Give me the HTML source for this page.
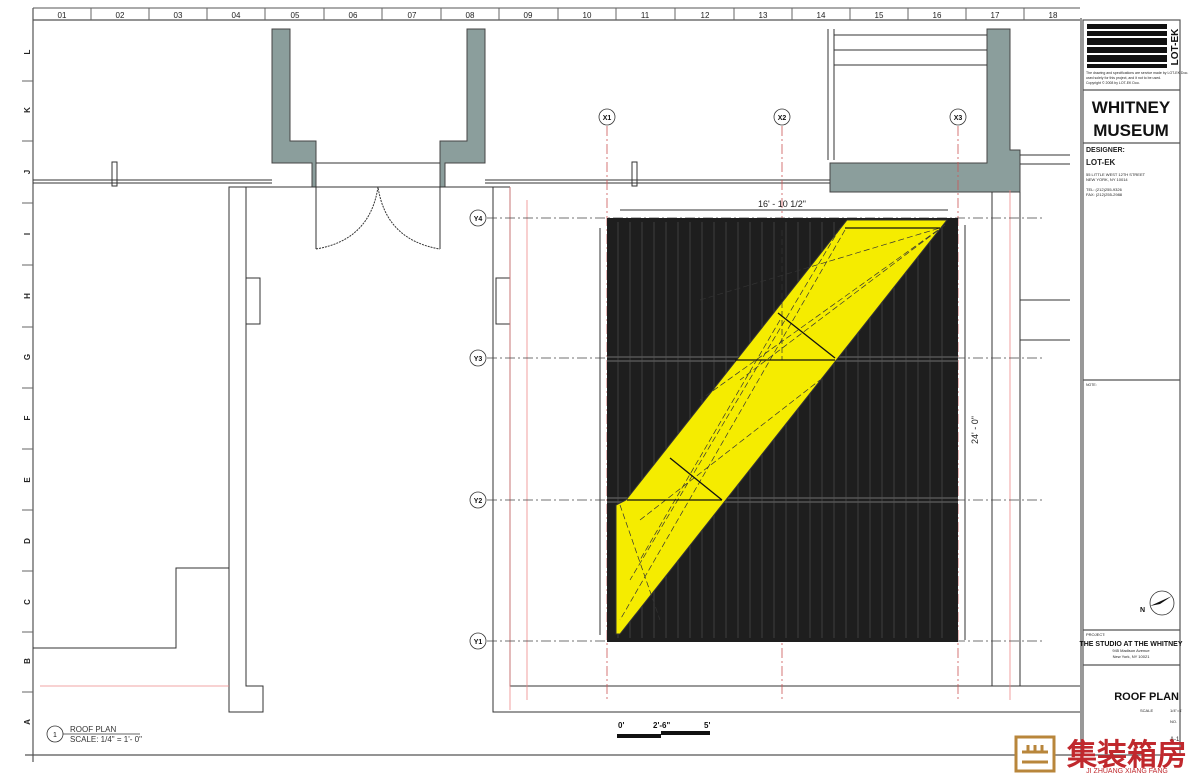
<!DOCTYPE html>
<html><head><meta charset="utf-8"><style>
html,body{margin:0;padding:0;background:#fff}
svg{display:block}
text{font-family:"Liberation Sans",sans-serif}
</style></head><body>
<svg width="1200" height="776" viewBox="0 0 1200 776" xmlns="http://www.w3.org/2000/svg">
<rect width="1200" height="776" fill="#fff"/>
<!-- borders -->
<g stroke="#555" stroke-width="1.2" fill="none">
<line x1="33" y1="20" x2="1080" y2="20"/>
<line x1="33" y1="8" x2="33" y2="762"/>
<line x1="25" y1="755" x2="1080" y2="755"/>
<line x1="1081" y1="18" x2="1081" y2="760"/>
<rect x="1083" y="20" width="97" height="735"/>
<line x1="1083" y1="90" x2="1180" y2="90"/>
<line x1="1083" y1="143" x2="1180" y2="143"/>
<line x1="1083" y1="380" x2="1180" y2="380"/>
<line x1="1083" y1="630" x2="1180" y2="630"/>
<line x1="1083" y1="665" x2="1180" y2="665"/>
</g>
<!-- column ticks -->
<g stroke="#555" stroke-width="1">
<line x1="33" y1="8" x2="1080" y2="8"/>
</g>
<g font-size="8" fill="#222" text-anchor="middle">
<text x="62" y="18">01</text><text x="120" y="18">02</text><text x="178" y="18">03</text><text x="236" y="18">04</text><text x="295" y="18">05</text><text x="353" y="18">06</text><text x="412" y="18">07</text><text x="470" y="18">08</text><text x="528" y="18">09</text><text x="587" y="18">10</text><text x="645" y="18">11</text><text x="705" y="18">12</text><text x="763" y="18">13</text><text x="821" y="18">14</text><text x="879" y="18">15</text><text x="937" y="18">16</text><text x="995" y="18">17</text><text x="1053" y="18">18</text>
</g>
<g font-size="8" fill="#222" text-anchor="middle" font-weight="bold">
<text transform="translate(30,52) rotate(-90)">L</text>
<text transform="translate(30,110) rotate(-90)">K</text>
<text transform="translate(30,172) rotate(-90)">J</text>
<text transform="translate(30,234) rotate(-90)">I</text>
<text transform="translate(30,296) rotate(-90)">H</text>
<text transform="translate(30,357) rotate(-90)">G</text>
<text transform="translate(30,418) rotate(-90)">F</text>
<text transform="translate(30,480) rotate(-90)">E</text>
<text transform="translate(30,541) rotate(-90)">D</text>
<text transform="translate(30,602) rotate(-90)">C</text>
<text transform="translate(30,661) rotate(-90)">B</text>
<text transform="translate(30,722) rotate(-90)">A</text>
</g>
<g stroke="#666" stroke-width="1">
<line x1="91" y1="8" x2="91" y2="20"/><line x1="149" y1="8" x2="149" y2="20"/><line x1="207" y1="8" x2="207" y2="20"/><line x1="265" y1="8" x2="265" y2="20"/><line x1="324" y1="8" x2="324" y2="20"/><line x1="382" y1="8" x2="382" y2="20"/><line x1="441" y1="8" x2="441" y2="20"/><line x1="499" y1="8" x2="499" y2="20"/><line x1="558" y1="8" x2="558" y2="20"/><line x1="616" y1="8" x2="616" y2="20"/><line x1="675" y1="8" x2="675" y2="20"/><line x1="734" y1="8" x2="734" y2="20"/><line x1="792" y1="8" x2="792" y2="20"/><line x1="850" y1="8" x2="850" y2="20"/><line x1="908" y1="8" x2="908" y2="20"/><line x1="966" y1="8" x2="966" y2="20"/><line x1="1024" y1="8" x2="1024" y2="20"/>
<line x1="22" y1="81" x2="33" y2="81"/><line x1="22" y1="141" x2="33" y2="141"/><line x1="22" y1="203" x2="33" y2="203"/><line x1="22" y1="265" x2="33" y2="265"/><line x1="22" y1="327" x2="33" y2="327"/><line x1="22" y1="388" x2="33" y2="388"/><line x1="22" y1="449" x2="33" y2="449"/><line x1="22" y1="510" x2="33" y2="510"/><line x1="22" y1="571" x2="33" y2="571"/><line x1="22" y1="632" x2="33" y2="632"/><line x1="22" y1="692" x2="33" y2="692"/>
</g>
<!-- gray walls -->
<g fill="#8b9e9c" stroke="#444" stroke-width="1">
<path d="M272 29 H290 V141 H316 V187 H312 V163 H272 Z"/>
<path d="M485 29 H467 V141 H440 V187 H445 V163 H485 Z"/>
<path d="M987 29 H1010 V150 H1020 V192 H830 V163 H987 Z"/>
</g>
<!-- plan lines -->
<g stroke="#333" stroke-width="1" fill="none">
<line x1="33" y1="180" x2="272" y2="180"/><line x1="33" y1="183" x2="272" y2="183"/>
<line x1="485" y1="180" x2="830" y2="180"/><line x1="485" y1="183" x2="830" y2="183"/>
<rect x="112" y="162" width="5" height="24"/><rect x="632" y="162" width="5" height="24"/>
<line x1="316" y1="163" x2="440" y2="163"/>
<line x1="246" y1="187" x2="510" y2="187"/>
<line x1="316" y1="187" x2="316" y2="249"/><line x1="440" y1="187" x2="440" y2="249"/>
<path d="M316 249 Q370 240 378 187 Q386 240 440 249" stroke-dasharray="2,1"/>
<path d="M229 187 H246 V686 H263 V712 H229 Z"/>
<path d="M510 187 V686 H1080 M493 187 V712 H1080"/>
<line x1="493" y1="187" x2="510" y2="187"/>
<rect x="246" y="278" width="14" height="46"/>
<rect x="496" y="278" width="14" height="46"/>
<path d="M33 648 H176 V568 H229"/>
<line x1="992" y1="192" x2="992" y2="686"/>
<line x1="1020" y1="192" x2="1020" y2="686"/>
<line x1="828" y1="29" x2="828" y2="160"/><line x1="834" y1="29" x2="834" y2="160"/>
<line x1="834" y1="35" x2="987" y2="35"/><line x1="834" y1="50" x2="987" y2="50"/><line x1="834" y1="65" x2="987" y2="65"/>
<line x1="1020" y1="155" x2="1070" y2="155"/><line x1="1020" y1="164" x2="1070" y2="164"/>
<line x1="1020" y1="300" x2="1070" y2="300"/><line x1="1020" y1="340" x2="1070" y2="340"/>
<line x1="600" y1="228" x2="600" y2="635"/>
<line x1="620" y1="210" x2="948" y2="210"/>
<line x1="965" y1="225" x2="965" y2="640"/>
</g>
<!-- red lines -->
<g stroke="#e88" stroke-width="0.8" fill="none">
<line x1="510" y1="187" x2="510" y2="710"/>
<line x1="527" y1="200" x2="527" y2="700"/>
<line x1="40" y1="686" x2="229" y2="686"/>
<line x1="1010" y1="190" x2="1010" y2="700"/>
</g>
<!-- grid lines -->
<g stroke="#c55" stroke-width="0.8" stroke-dasharray="10,3,2,3">
<line x1="607" y1="126" x2="607" y2="700"/>
<line x1="782" y1="126" x2="782" y2="700"/>
<line x1="958" y1="126" x2="958" y2="700"/>
</g>
<g stroke="#444" stroke-width="0.8" stroke-dasharray="10,3,2,3">
<line x1="487" y1="218" x2="1045" y2="218"/>
<line x1="487" y1="358" x2="1045" y2="358"/>
<line x1="487" y1="500" x2="1045" y2="500"/>
<line x1="487" y1="641" x2="1045" y2="641"/>
</g>
<!-- container -->
<rect x="607" y="218" width="351" height="424" fill="#1e1e1e"/>
<g stroke="#3a3a3a" stroke-width="1.2">
<line x1="618" y1="222" x2="618" y2="638"/><line x1="630" y1="222" x2="630" y2="638"/><line x1="642" y1="222" x2="642" y2="638"/><line x1="654" y1="222" x2="654" y2="638"/><line x1="666" y1="222" x2="666" y2="638"/><line x1="678" y1="222" x2="678" y2="638"/><line x1="690" y1="222" x2="690" y2="638"/><line x1="702" y1="222" x2="702" y2="638"/><line x1="714" y1="222" x2="714" y2="638"/><line x1="726" y1="222" x2="726" y2="638"/><line x1="738" y1="222" x2="738" y2="638"/><line x1="750" y1="222" x2="750" y2="638"/><line x1="762" y1="222" x2="762" y2="638"/><line x1="774" y1="222" x2="774" y2="638"/><line x1="786" y1="222" x2="786" y2="638"/><line x1="798" y1="222" x2="798" y2="638"/><line x1="810" y1="222" x2="810" y2="638"/><line x1="822" y1="222" x2="822" y2="638"/><line x1="834" y1="222" x2="834" y2="638"/><line x1="846" y1="222" x2="846" y2="638"/><line x1="858" y1="222" x2="858" y2="638"/><line x1="870" y1="222" x2="870" y2="638"/><line x1="882" y1="222" x2="882" y2="638"/><line x1="894" y1="222" x2="894" y2="638"/><line x1="906" y1="222" x2="906" y2="638"/><line x1="918" y1="222" x2="918" y2="638"/><line x1="930" y1="222" x2="930" y2="638"/><line x1="942" y1="222" x2="942" y2="638"/>
</g>
<g stroke="#555" stroke-width="1.5">
<line x1="607" y1="357" x2="958" y2="357"/><line x1="607" y1="361" x2="958" y2="361"/>
<line x1="607" y1="498" x2="958" y2="498"/><line x1="607" y1="502" x2="958" y2="502"/>
</g>
<!-- yellow -->
<polygon points="847,220 947,220 620,634 616,634 616,505 626,500" fill="#f5ec00" stroke="#333" stroke-width="1"/>
<g stroke="#333" stroke-width="0.7" fill="none" stroke-dasharray="6,3">
<line x1="845" y1="230" x2="620" y2="620"/><line x1="945" y1="225" x2="700" y2="400"/><line x1="945" y1="225" x2="740" y2="380"/>
<line x1="840" y1="228" x2="630" y2="580"/><line x1="780" y1="320" x2="640" y2="560"/>
<line x1="700" y1="300" x2="940" y2="228"/><line x1="640" y1="520" x2="820" y2="380"/>
<line x1="620" y1="505" x2="660" y2="620"/><line x1="782" y1="230" x2="782" y2="360"/>
</g>
<g stroke="#111" stroke-width="1.3">
<line x1="778" y1="313" x2="835" y2="358"/><line x1="735" y1="360" x2="835" y2="360"/>
<line x1="670" y1="458" x2="722" y2="500"/><line x1="627" y1="500" x2="722" y2="500"/>
<line x1="845" y1="228" x2="940" y2="228"/>
</g>
<!-- grid bubbles -->
<g fill="#fff" stroke="#333" stroke-width="0.8">
<circle cx="607" cy="117" r="8"/><circle cx="782" cy="117" r="8"/><circle cx="958" cy="117" r="8"/>
<circle cx="478" cy="218" r="8"/><circle cx="478" cy="358" r="8"/><circle cx="478" cy="500" r="8"/><circle cx="478" cy="641" r="8"/>
<circle cx="55" cy="734" r="8"/>
</g>
<g font-size="7" fill="#111" text-anchor="middle" font-weight="bold">
<text x="607" y="120">X1</text><text x="782" y="120">X2</text><text x="958" y="120">X3</text>
<text x="478" y="221">Y4</text><text x="478" y="361">Y3</text><text x="478" y="503">Y2</text><text x="478" y="644">Y1</text>
<text x="55" y="737" font-weight="normal">1</text>
</g>
<text x="782" y="207" font-size="9" text-anchor="middle" fill="#222">16' - 10 1/2"</text>
<text transform="translate(978,430) rotate(-90)" font-size="9" text-anchor="middle" fill="#222">24' - 0"</text>
<line x1="63" y1="734" x2="140" y2="734" stroke="#333" stroke-width="0.7"/>
<text x="70" y="732" font-size="8" fill="#333">ROOF PLAN</text>
<text x="70" y="742" font-size="8" fill="#333">SCALE: 1/4" = 1'- 0"</text>
<!-- scale bar -->
<text x="618" y="728" font-size="8" font-weight="bold" fill="#111">0'</text>
<text x="653" y="728" font-size="8" font-weight="bold" fill="#111">2'-6"</text>
<text x="704" y="728" font-size="8" font-weight="bold" fill="#111">5'</text>
<rect x="617" y="734" width="44" height="4" fill="#111"/>
<rect x="661" y="731" width="49" height="4" fill="#111"/>
<!-- title block -->
<g fill="#111">
<rect x="1087" y="24" width="80" height="5"/><rect x="1087" y="31" width="80" height="5"/><rect x="1087" y="38" width="80" height="7"/><rect x="1087" y="47" width="80" height="6"/><rect x="1087" y="55" width="80" height="7"/><rect x="1087" y="64" width="80" height="4"/>
</g>
<text transform="translate(1178,47) rotate(-90)" font-size="10" font-weight="bold" text-anchor="middle" fill="#111">LOT-EK</text>
<g font-size="3.5" fill="#222"><text x="1086" y="74">The drawing and specifications are service made by LOT-EK Doo.</text><text x="1086" y="79">used solely for this project, and it not to be used.</text><text x="1086" y="84">Copyright © 2008 by LOT-EK Doo.</text></g>
<text x="1131" y="113" font-size="17" font-weight="bold" text-anchor="middle" fill="#111">WHITNEY</text>
<text x="1131" y="136" font-size="17" font-weight="bold" text-anchor="middle" fill="#111">MUSEUM</text>
<text x="1086" y="152" font-size="7" font-weight="bold" fill="#222">DESIGNER:</text>
<text x="1086" y="165" font-size="8" font-weight="bold" fill="#222">LOT-EK</text>
<text x="1086" y="176" font-size="4" fill="#222">55 LITTLE WEST 12TH STREET</text>
<text x="1086" y="181" font-size="4" fill="#222">NEW YORK, NY 10014</text>
<text x="1086" y="191" font-size="4" fill="#222">TEL: (212)255-9326</text>
<text x="1086" y="196" font-size="4" fill="#222">FAX: (212)255-2988</text>
<text x="1086" y="386" font-size="3.5" fill="#222">NOTE:</text>
<circle cx="1162" cy="603" r="12" fill="#fff" stroke="#333" stroke-width="0.8"/>
<polygon points="1150,606 1172,596 1160,604" fill="#111"/>
<text x="1140" y="612" font-size="7" font-weight="bold" fill="#111">N</text>
<text x="1086" y="636" font-size="4" fill="#222">PROJECT:</text>
<text x="1131" y="646" font-size="7" font-weight="bold" text-anchor="middle" fill="#111">THE STUDIO AT THE WHITNEY</text>
<text x="1131" y="652" font-size="4" text-anchor="middle" fill="#222">945 Madison Avenue</text>
<text x="1131" y="658" font-size="4" text-anchor="middle" fill="#222">New York, NY 10021</text>
<text x="1179" y="700" font-size="11" font-weight="bold" text-anchor="end" fill="#111">ROOF PLAN</text>
<text x="1140" y="712" font-size="4" fill="#222">SCALE</text>
<text x="1170" y="712" font-size="4" fill="#222">1/4"=1'</text>
<text x="1170" y="723" font-size="4" fill="#222">NO.</text>
<text x="1170" y="741" font-size="6" fill="#222">A-1</text>
<!-- watermark -->
<rect x="1016" y="737" width="38" height="34" fill="#fff" stroke="#b8863b" stroke-width="3"/>
<g stroke="#b8863b" stroke-width="3"><line x1="1022" y1="752" x2="1048" y2="752"/><line x1="1022" y1="762" x2="1048" y2="762"/><line x1="1028" y1="745" x2="1028" y2="752"/><line x1="1035" y1="745" x2="1035" y2="752"/><line x1="1042" y1="745" x2="1042" y2="752"/></g>
<text x="1127" y="765" font-size="30" font-weight="bold" text-anchor="middle" fill="#c0282d" font-family="'Liberation Sans','Noto Sans CJK SC',sans-serif">集装箱房</text>
<text x="1127" y="773" font-size="7" text-anchor="middle" fill="#c0282d">JI ZHUANG XIANG FANG</text>
</svg>
</body></html>
